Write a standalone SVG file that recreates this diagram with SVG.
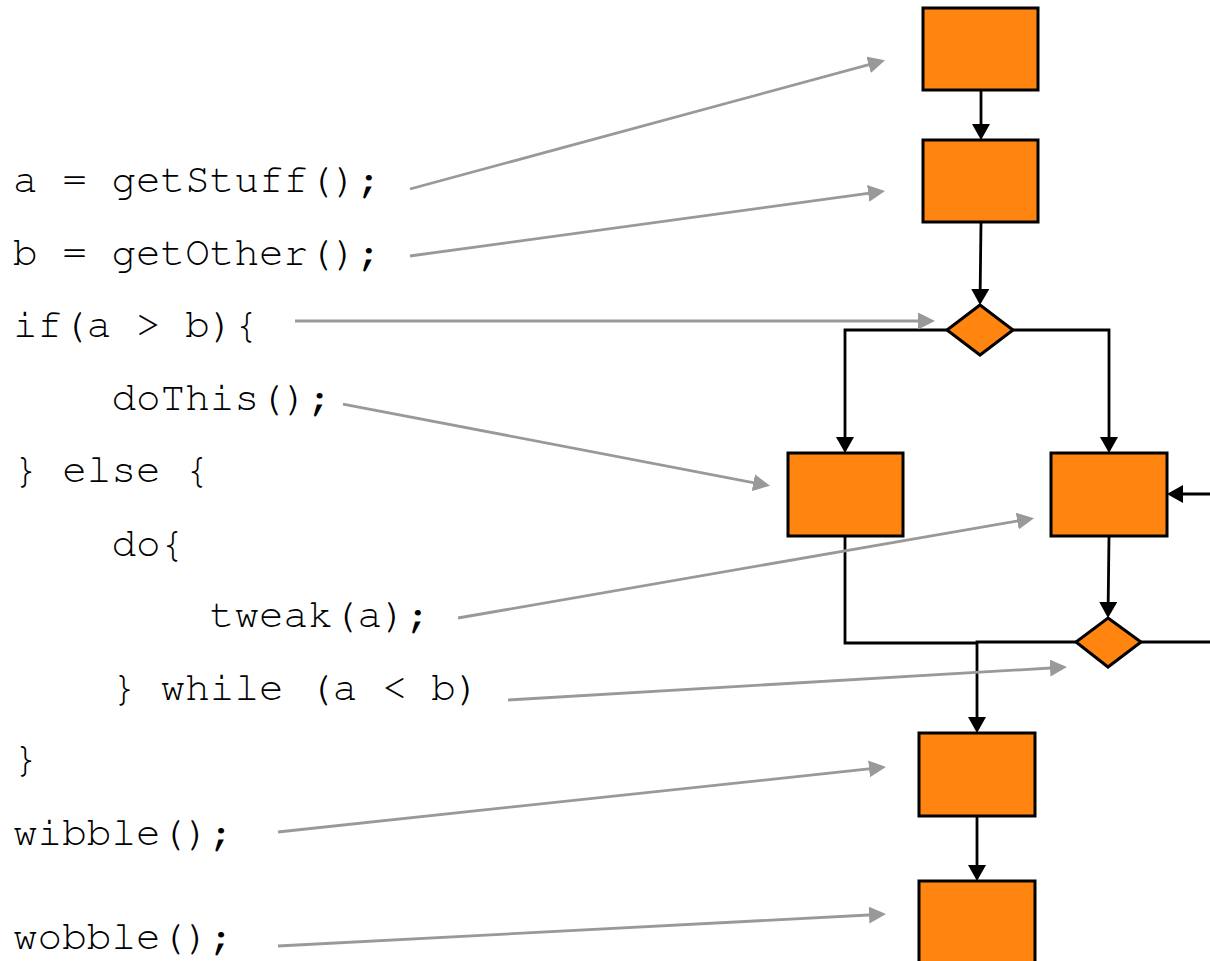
<svg xmlns="http://www.w3.org/2000/svg" width="1210" height="961" viewBox="0 0 1210 961">
  <style>
    .code { font-family: "Nimbus Mono PS", "FreeMono", "Liberation Mono", "Courier New", monospace; font-size: 41px; fill: #000; white-space: pre; }
    .node { fill: #ff8410; stroke: #000; stroke-width: 3; }
    .flow { fill: none; stroke: #000; stroke-width: 2.8; }
    .link { fill: none; stroke: #999; stroke-width: 2.8; }
  </style>
  <defs>
    <marker id="blackHead" markerUnits="userSpaceOnUse" markerWidth="17" markerHeight="19" refX="8" refY="9" orient="auto">
      <path d="M0,0 L16,9 L0,18 z" fill="#000"/>
    </marker>
    <marker id="grayHead" markerUnits="userSpaceOnUse" markerWidth="18" markerHeight="18" refX="9" refY="8.5" orient="auto">
      <path d="M0,0 L17,8.5 L0,17 z" fill="#999"/>
    </marker>
  </defs>
  <rect width="1210" height="961" fill="#fff"/>

  <!-- source code listing -->
  <g id="code">
    <text class="code" x="13" y="192">a = getStuff();</text>
    <text class="code" x="13" y="265">b = getOther();</text>
    <text class="code" x="13" y="337">if(a &gt; b){</text>
    <text class="code" x="13" y="410">    doThis();</text>
    <text class="code" x="13" y="482">} else {</text>
    <text class="code" x="13" y="556">    do{</text>
    <text class="code" x="13" y="627">        tweak(a);</text>
    <text class="code" x="13" y="700">    } while (a &lt; b)</text>
    <text class="code" x="13" y="771">}</text>
    <text class="code" x="13" y="845">wibble();</text>
    <text class="code" x="13" y="949">wobble();</text>
  </g>

  <!-- flowchart connectors -->
  <g id="connectors">
    <path class="flow" d="M981,91 L981,132" marker-end="url(#blackHead)"/>
    <path class="flow" d="M981,222 L980.1,297" marker-end="url(#blackHead)"/>
    <path class="flow" d="M947,330 H845 V445" marker-end="url(#blackHead)"/>
    <path class="flow" d="M1013,330 H1109 V445" marker-end="url(#blackHead)"/>
    <path class="flow" d="M1212,494 H1175" marker-end="url(#blackHead)"/>
    <path class="flow" d="M1109,536 L1108.1,610" marker-end="url(#blackHead)"/>
    <path class="flow" d="M1141,642 H1212"/>
    <path class="flow" d="M1076,642 H977 V725" marker-end="url(#blackHead)"/>
    <path class="flow" d="M845,536 V643 H977"/>
    <path class="flow" d="M977,816 V873" marker-end="url(#blackHead)"/>

    <!-- code line to flowchart step links -->
    <path class="link" d="M410,189 L877.3,62.4" marker-end="url(#grayHead)"/>
    <path class="link" d="M410,256 L877.1,192.2" marker-end="url(#grayHead)"/>
    <path class="link" d="M295,321 L927,321" marker-end="url(#grayHead)"/>
    <path class="link" d="M343,404 L762.2,484.3" marker-end="url(#grayHead)"/>
    <path class="link" d="M458,618 L1026.1,519.5" marker-end="url(#grayHead)"/>
    <path class="link" d="M508,700 L1059,667.5" marker-end="url(#grayHead)"/>
    <path class="link" d="M278,832 L878,767.9" marker-end="url(#grayHead)"/>
    <path class="link" d="M278,946 L878,914.5" marker-end="url(#grayHead)"/>
  </g>

  <!-- flowchart steps -->
  <g id="getStuff"><rect class="node" x="923" y="8" width="115" height="82"/></g>
  <g id="getOther"><rect class="node" x="923" y="140" width="115" height="82"/></g>
  <g id="ifTest"><polygon class="node" points="980,305 1013,330 980,355 947,330"/></g>
  <g id="doThis"><rect class="node" x="788" y="453" width="115" height="83"/></g>
  <g id="tweak"><rect class="node" x="1051" y="453" width="116" height="83"/></g>
  <g id="whileTest"><polygon class="node" points="1108,618 1141,642 1108,667 1076,642"/></g>
  <g id="wibble"><rect class="node" x="919" y="733" width="116" height="83"/></g>
  <g id="wobble"><rect class="node" x="919" y="881" width="116" height="83"/></g>
</svg>
